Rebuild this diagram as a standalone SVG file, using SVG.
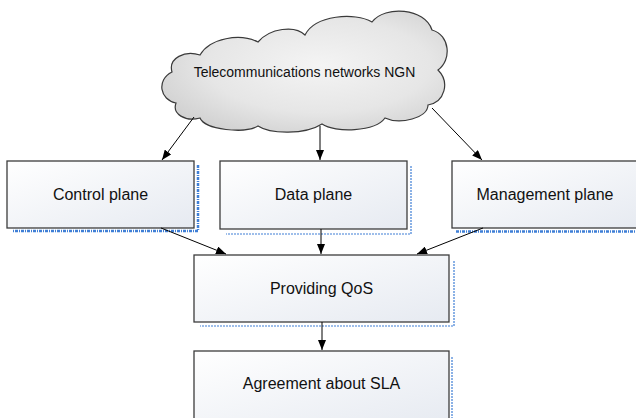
<svg xmlns="http://www.w3.org/2000/svg" width="636" height="418" viewBox="0 0 636 418">
<defs>
<linearGradient id="boxg" x1="0" y1="0" x2="1" y2="1">
<stop offset="0" stop-color="#ffffff"/>
<stop offset="1" stop-color="#e6eaf1"/>
</linearGradient>
<radialGradient id="cloudg" cx="0.55" cy="0.45" r="0.65">
<stop offset="0" stop-color="#f4f4f4"/>
<stop offset="0.6" stop-color="#e6e6e6"/>
<stop offset="1" stop-color="#cfcfcf"/>
</radialGradient>
<marker id="arr" viewBox="0 0 10 8" refX="10" refY="4" markerWidth="10" markerHeight="8" markerUnits="userSpaceOnUse" orient="auto">
<path d="M0,0 L10,4 L0,8 Z" fill="#000"/>
</marker>
</defs>
<style>
.box{fill:url(#boxg);stroke:#3c3c3c;stroke-width:1.3}
.sh{fill:none;stroke:#3f7fd6;stroke-width:1.2;stroke-dasharray:2 1}
.shb{fill:none;stroke:#3f7fd6;stroke-width:2.5;stroke-dasharray:3 1 1 1}
.t{font-family:"Liberation Sans",Arial,sans-serif;font-size:16px;fill:#111;text-anchor:middle}
.ct{font-family:"Liberation Sans",Arial,sans-serif;font-size:14px;fill:#111;text-anchor:middle}
.c{stroke:#000;stroke-width:1;fill:none;marker-end:url(#arr)}
</style>
<rect width="636" height="418" fill="#ffffff"/>

<g id="cloud">
<path d="M176,103 C160,100 156,80 172,72 C168,58 185,50 200,55 C210,38 240,33 258,42 C270,28 295,25 305,35 C315,15 355,12 372,22 C385,5 425,8 432,30 C450,35 452,60 438,70 C450,82 445,102 428,105 C428,118 400,125 385,118 C375,132 335,133 322,124 C305,135 270,134 258,126 C245,134 205,130 200,118 C185,122 172,114 176,103 Z" fill="url(#cloudg)" stroke="#3a3a3a" stroke-width="1.2"/>
<text class="ct" x="304.5" y="77">Telecommunications networks NGN</text>
</g>

<g id="control">
<path class="shb" d="M198,165 V231 H12"/>
<rect class="box" x="7" y="161" width="187" height="67"/>
<text class="t" x="100.5" y="200">Control plane</text>
</g>

<g id="data">
<path class="sh" d="M411,166 V234 H226"/>
<rect class="box" x="220" y="161" width="187" height="68"/>
<text class="t" x="313.5" y="200">Data plane</text>
</g>

<g id="management">
<path class="shb" d="M456,231.5 H640"/>
<rect class="box" x="452" y="161" width="190" height="67"/>
<text class="t" x="545" y="200">Management plane</text>
</g>

<g id="qos">
<path class="sh" d="M454,261 V326 H200"/>
<rect class="box" x="194" y="255" width="255" height="67"/>
<text class="t" x="321.5" y="294">Providing QoS</text>
</g>

<g id="sla">
<path class="sh" d="M452,357 V420"/>
<rect class="box" x="194" y="351" width="255" height="75"/>
<text class="t" x="321.5" y="389">Agreement about SLA</text>
</g>

<g id="connectors">
<line class="c" x1="194" y1="117" x2="162" y2="160"/>
<line class="c" x1="320" y1="126" x2="320" y2="160"/>
<line class="c" x1="432" y1="108" x2="482" y2="160"/>
<line class="c" x1="161" y1="228" x2="226" y2="254"/>
<line class="c" x1="321" y1="229" x2="321" y2="254"/>
<line class="c" x1="483" y1="228" x2="417" y2="254"/>
<line class="c" x1="322" y1="322" x2="322" y2="350"/>
</g>
</svg>
